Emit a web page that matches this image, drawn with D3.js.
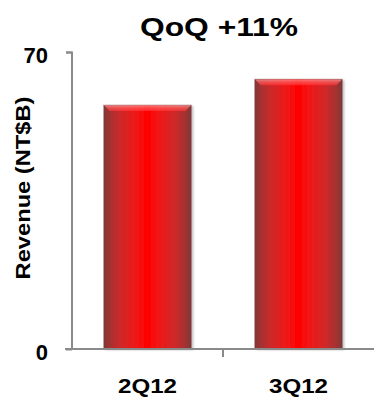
<!DOCTYPE html>
<html><head><meta charset="utf-8">
<script src="https://cdn.jsdelivr.net/npm/d3@7"></script>
<style>html,body{margin:0;padding:0;background:#fff;}svg{display:block;}</style>
</head><body>
<svg id="c" width="374" height="397"></svg>
<script>
const categories = ["2Q12", "3Q12"];
const revenue = [57.5, 63.6];
const yTicks = [0, 70];
const titleText = "QoQ +11%";
const yLabel = "Revenue (NT$B)";

const svg = d3.select("#c");
const font = "'Liberation Sans', Arial, sans-serif";
const defs = svg.append("defs");

const g = defs.append("linearGradient").attr("id","barGrad").attr("x1","0").attr("x2","1").attr("y1","0").attr("y2","0");
[[0,"#7a3a3a"],[0.05,"#9c3232"],[0.18,"#cc2a2a"],[0.38,"#f21616"],[0.5,"#ff0000"],[0.62,"#f21616"],[0.82,"#cc2a2a"],[0.95,"#9c3232"],[1,"#783a3a"]]
  .forEach(([o,c])=>g.append("stop").attr("offset",o).attr("stop-color",c));
const tg = defs.append("linearGradient").attr("id","topGrad").attr("x1","0").attr("x2","0").attr("y1","0").attr("y2","1");
[[0,"#ffb8b8"],[0.35,"#ff7070"],[1,"#ff3030"]].forEach(([o,c])=>tg.append("stop").attr("offset",o).attr("stop-color",c).attr("stop-opacity",0.7));
const f = defs.append("filter").attr("id","sh").attr("x","-10%").attr("y","-10%").attr("width","130%").attr("height","130%");
f.append("feDropShadow").attr("dx",2).attr("dy",1).attr("stdDeviation",1.2).attr("flood-color","#000").attr("flood-opacity",0.25);

const x = d3.scaleBand().domain(categories).range([72, 374]).paddingInner(0.42).paddingOuter(0.21);
const y = d3.scaleLinear().domain([0, 70]).range([349, 52]);

// bars
const bars = svg.append("g");
categories.forEach((c,i)=>{
  const x0 = x(c), w = x.bandwidth(), yt = y(revenue[i]), yb = y(0);
  bars.append("rect").attr("x",x0).attr("y",yt).attr("width",w).attr("height",yb-yt)
    .attr("fill","url(#barGrad)").attr("filter","url(#sh)");
  const b = 6;
  bars.append("path").attr("d",`M${x0},${yt} L${x0+w},${yt} L${x0+w-b},${yt+b} L${x0+b},${yt+b} Z`)
    .attr("fill","url(#topGrad)");
  bars.append("rect").attr("x",x0).attr("y",yt).attr("width",w).attr("height",yb-yt)
    .attr("fill","none").attr("stroke","#7a3a3a").attr("stroke-opacity",0.4).attr("stroke-width",0.8);
});

// y axis
const yAxis = d3.axisLeft(y).tickValues(yTicks).tickSize(6).tickPadding(18).tickFormat(d3.format("d"));
const ya = svg.append("g").attr("transform","translate(72,0)").call(yAxis);
ya.select(".domain").attr("stroke","#8a8a8a").attr("stroke-width",2).attr("d","M-6,52.5H0V349");
ya.selectAll(".tick line").attr("stroke","#8a8a8a").attr("stroke-width",2);
ya.selectAll(".tick text").attr("font-family",font).attr("font-weight","bold").attr("font-size",22).attr("fill","#000").attr("dy",10.5);

// x axis
const xa = svg.append("g").attr("transform","translate(0,349)");
xa.append("line").attr("x1",65).attr("x2",374).attr("y1",0).attr("y2",0).attr("stroke","#8a8a8a").attr("stroke-width",2);
const bounds = categories.slice(1).map(c => x(c) - x.step()*x.paddingInner()/2);
bounds.forEach(b=>xa.append("line").attr("x1",b).attr("x2",b).attr("y1",0).attr("y2",8).attr("stroke","#8a8a8a").attr("stroke-width",2));
xa.selectAll("text.cat").data(categories).join("text").attr("class","cat")
  .attr("x",d=>x(d)+x.bandwidth()/2).attr("y",44).attr("text-anchor","middle")
  .attr("font-family",font).attr("font-weight","bold").attr("font-size",21)
  .attr("textLength",59).attr("lengthAdjust","spacingAndGlyphs").text(d=>d);

// title
svg.append("text").attr("x",219).attr("y",36).attr("text-anchor","middle")
  .attr("font-family",font).attr("font-weight","bold").attr("font-size",25)
  .attr("textLength",158).attr("lengthAdjust","spacingAndGlyphs").text(titleText);
// y label
svg.append("text").attr("transform","translate(30,188) rotate(-90)").attr("text-anchor","middle")
  .attr("font-family",font).attr("font-weight","bold").attr("font-size",21)
  .attr("textLength",183).attr("lengthAdjust","spacingAndGlyphs").text(yLabel);
</script>
</body></html>
